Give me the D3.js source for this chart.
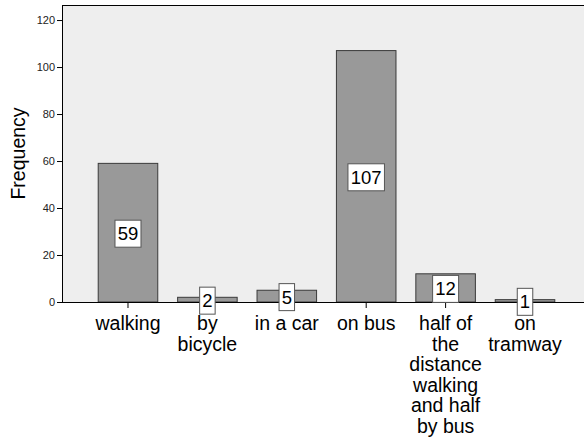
<!DOCTYPE html>
<html lang="en">
<head>
<meta charset="utf-8">
<title>Frequency</title>
<script src="https://cdn.jsdelivr.net/npm/d3@7"></script>
<style>
    body { margin: 0; background: #fff; }
    text { font-family: "Liberation Sans", Arial, sans-serif; }
</style>
</head>
<body>
<div id="chart"></div>
<script type="text/javascript">
var categories = ["walking", "by bicycle", "in a car", "on bus", "half of the distance walking and half by bus", "on tramway"];
var categoryLines = [["walking"], ["by", "bicycle"], ["in a car"], ["on bus"],
                     ["half of", "the", "distance", "walking", "and half", "by bus"], ["on", "tramway"]];
var counts = [59, 2, 5, 107, 12, 1];
var yTicks = [0, 20, 40, 60, 80, 100, 120];

var width = 584, height = 439;
// plot edges (note: "top" clashes with window.top, so prefixed)
var plotLeft = 62, plotRight = 591, plotTop = 5, plotBottom = 302;

var svg = d3.select("#chart").append("svg")
    .attr("width", width)
    .attr("height", height);

var x = d3.scaleBand()
    .domain(categories)
    .range([plotLeft, plotRight])
    .paddingInner(0.25)
    .paddingOuter(0.456);

var y = d3.scaleLinear()
    .domain([0, 126.4])
    .range([plotBottom, plotTop]);

// plot background
svg.append("rect")
    .attr("x", plotLeft)
    .attr("y", plotTop)
    .attr("width", plotRight - plotLeft)
    .attr("height", plotBottom - plotTop)
    .attr("fill", "#eeeeee");

// bars
svg.append("g")
    .selectAll("rect")
    .data(counts)
    .enter().append("rect")
    .attr("x", function(d, i) { return x(categories[i]); })
    .attr("y", function(d) { return y(d); })
    .attr("width", x.bandwidth())
    .attr("height", function(d) { return plotBottom - y(d); })
    .attr("fill", "#999999")
    .attr("stroke", "#3a3a3a")
    .attr("stroke-width", 1);

// top frame line
svg.append("line")
    .attr("x1", plotLeft).attr("x2", plotRight)
    .attr("y1", plotTop + 0.5).attr("y2", plotTop + 0.5)
    .attr("stroke", "#000");

// y axis
var yAxis = svg.append("g")
    .attr("transform", "translate(" + plotLeft + ",0)")
    .call(d3.axisLeft(y).tickValues(yTicks).tickSize(5).tickPadding(2));
yAxis.select(".domain").attr("d", "M0.5," + plotTop + "V" + plotBottom).attr("stroke", "#000");
yAxis.selectAll(".tick line").attr("stroke", "#000");
yAxis.selectAll("text")
    .attr("font-size", 11)
    .attr("fill", "#222")
    .style("font-family", "'Liberation Sans', Arial, sans-serif");

// x axis
var xAxis = svg.append("g")
    .attr("transform", "translate(0," + plotBottom + ")")
    .call(d3.axisBottom(x).tickSize(6).tickFormat(""));
xAxis.select(".domain").attr("d", "M" + plotLeft + ",0.5H" + plotRight).attr("stroke", "#000");
xAxis.selectAll(".tick line").attr("stroke", "#000");

// category labels, wrapped
var catLabels = svg.append("g")
    .selectAll("text")
    .data(categoryLines)
    .enter().append("text")
    .attr("x", function(d, i) { return x(categories[i]) + x.bandwidth() / 2; })
    .attr("y", 330)
    .attr("text-anchor", "middle")
    .attr("font-size", 19.5)
    .attr("fill", "#000");
catLabels.selectAll("tspan")
    .data(function(d) { return d; })
    .enter().append("tspan")
    .attr("x", function() { return this.parentNode.getAttribute("x"); })
    .attr("dy", function(d, i) { return i === 0 ? 0 : 20.5; })
    .text(function(d) { return d; });

// value labels in boxes
var valueLabels = svg.append("g")
    .selectAll("g")
    .data(counts)
    .enter().append("g")
    .attr("transform", function(d, i) {
        return "translate(" + (x(categories[i]) + x.bandwidth() / 2) + "," + ((y(d) + plotBottom) / 2 + 1) + ")";
    });
valueLabels.append("rect")
    .attr("x", function(d) { var w = String(d).length * 10.5 + 5; return -w / 2; })
    .attr("y", -13.5)
    .attr("width", function(d) { return String(d).length * 10.5 + 5; })
    .attr("height", 27)
    .attr("fill", "#fff")
    .attr("stroke", "#555")
    .attr("stroke-width", 1);
valueLabels.append("text")
    .attr("text-anchor", "middle")
    .attr("dy", 6.5)
    .attr("font-size", 18.5)
    .attr("fill", "#000")
    .text(function(d) { return d; });

// y axis title
svg.append("text")
    .attr("transform", "translate(25," + ((plotTop + plotBottom) / 2) + ") rotate(-90)")
    .attr("text-anchor", "middle")
    .attr("font-size", 19.5)
    .attr("fill", "#000")
    .text("Frequency");
</script>
</body>
</html>
